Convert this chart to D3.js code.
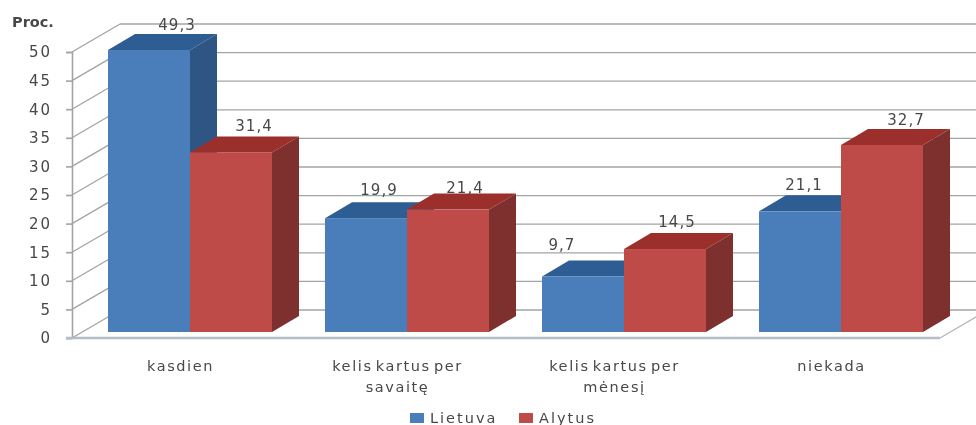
<!DOCTYPE html>
<html>
<head>
<meta charset="utf-8">
<script src="https://cdnjs.cloudflare.com/ajax/libs/d3/7.8.5/d3.min.js"></script>
<style>
    html, body { margin: 0; padding: 0; background: #fff; overflow: hidden; }
    svg { display: block; filter: blur(0.6px); }
    text { font-family: "DejaVu Sans", sans-serif; fill: #484848; }
</style>
</head>
<body>
<div id="chart"></div>
<script>
// Data
const categories = ["kasdien", "kelis kartus per savaitę", "kelis kartus per mėnesį", "niekada"];
const seriesNames = ["Lietuva", "Alytus"];
const lietuva = [49.3, 19.9, 9.7, 21.1];
const alytus = [31.4, 21.4, 14.5, 32.7];
const yTicks = [0, 5, 10, 15, 20, 25, 30, 35, 40, 45, 50];

// Label nudges from the top centre of each bar, the labels sit unevenly in the original
const labelNudgeLietuva = [[28, -20], [13, -23], [-21, -27], [4, -21]];
const labelNudgeAlytus = [[23, -21], [17, -17], [12, -22], [24, -20]];

const w = 976;
const h = 425;

// 3d offsets
const wallDx = 48, wallDy = -28;   // front of the floor to the back wall
const barDx = 27, barDy = -16;     // depth of a bar
const barLift = -6;                // bars stand a bit behind the front edge
const barWidth = 82;

const colors = {
    Lietuva: { front: "#4a7ebb", side: "#2f5584", top: "#2e5d94" },
    Alytus: { front: "#be4b48", side: "#7e302e", top: "#9a2f2c" }
};

const svg = d3.select("#chart")
    .append("svg")
    .attr("width", w)
    .attr("height", h);

// Scales
const yScale = d3.scaleLinear().domain([0, 50]).range([338, 52]);
const xScale = d3.scaleBand().domain(categories).range([72, 940]);

// Back wall gridlines
svg.append("g")
    .selectAll("line")
    .data(yTicks)
    .enter()
    .append("line")
    .attr("x1", 72 + wallDx)
    .attr("x2", w)
    .attr("y1", d => yScale(d) + wallDy)
    .attr("y2", d => yScale(d) + wallDy)
    .attr("stroke", "#a3a3a3")
    .attr("stroke-width", 1.3);

// Side wall lines
svg.append("g")
    .selectAll("line")
    .data(yTicks)
    .enter()
    .append("line")
    .attr("x1", 72)
    .attr("x2", 72 + wallDx)
    .attr("y1", d => yScale(d))
    .attr("y2", d => yScale(d) + wallDy)
    .attr("stroke", "#a3a3a3")
    .attr("stroke-width", 1.3);

// Floor, right edge
svg.append("line")
    .attr("x1", 940)
    .attr("x2", 940 + wallDx)
    .attr("y1", yScale(0))
    .attr("y2", yScale(0) + wallDy)
    .attr("stroke", "#b5b5b5")
    .attr("stroke-width", 1.3);

// Axes
const yAxis = svg.append("g")
    .attr("transform", "translate(72, 0)")
    .call(d3.axisLeft(yScale).tickValues(yTicks).tickSize(6).tickPadding(14));
yAxis.selectAll("path, line").attr("stroke", "#a3a3a3").attr("stroke-width", 1.6);
yAxis.selectAll("text")
    .attr("font-size", 15)
    .attr("letter-spacing", 2)
    .style("font-family", "'DejaVu Sans', sans-serif")
    .style("fill", "#484848");

svg.append("line")
    .attr("x1", 66)
    .attr("x2", 940)
    .attr("y1", yScale(0))
    .attr("y2", yScale(0))
    .attr("stroke", "#b4bcc6")
    .attr("stroke-width", 2.5);

// One bar per series, blue first so the red one covers its side
function drawBars(name, values, offset) {
    const c = colors[name];
    const g = svg.append("g");
    values.forEach((v, i) => {
        const x0 = xScale(categories[i]) + 36 + offset;
        const x1 = x0 + barWidth;
        const yTop = yScale(v) + barLift;
        const yBase = yScale(0) + barLift;

        g.append("polygon")
            .attr("points", [[x1, yTop], [x1 + barDx, yTop + barDy], [x1 + barDx, yBase + barDy], [x1, yBase]].join(" "))
            .attr("fill", c.side);
        g.append("polygon")
            .attr("points", [[x0, yTop], [x0 + barDx, yTop + barDy], [x1 + barDx, yTop + barDy], [x1, yTop]].join(" "))
            .attr("fill", c.top);
        g.append("rect")
            .attr("x", x0)
            .attr("y", yTop)
            .attr("width", barWidth)
            .attr("height", yBase - yTop)
            .attr("fill", c.front);
    });
}

drawBars("Lietuva", lietuva, 0);
drawBars("Alytus", alytus, barWidth);

// Value labels, on top of everything
function drawLabels(values, nudges, offset) {
    svg.append("g")
        .selectAll("text")
        .data(values)
        .enter()
        .append("text")
        .attr("x", (d, i) => xScale(categories[i]) + 36 + offset + barWidth / 2 + nudges[i][0])
        .attr("y", (d, i) => yScale(d) + barLift + nudges[i][1])
        .attr("text-anchor", "middle")
        .attr("font-size", 15)
        .attr("letter-spacing", 1)
        .text(d => String(d).replace(".", ","));
}
drawLabels(lietuva, labelNudgeLietuva, 0);
drawLabels(alytus, labelNudgeAlytus, barWidth);

// Category labels, wrapped like the original
const catLabels = svg.append("g")
    .selectAll("text")
    .data(categories)
    .enter()
    .append("text")
    .attr("text-anchor", "middle")
    .attr("font-size", 14.5)
    .attr("letter-spacing", 1.6)
    .attr("word-spacing", -3);

catLabels.each(function(d) {
    const words = d.split(" ");
    const lines = words.length > 3 ? [words.slice(0, 3).join(" "), words.slice(3).join(" ")] : [d];
    const cx = xScale(d) + xScale.bandwidth() / 2;
    lines.forEach((line, i) => {
        d3.select(this).append("tspan")
            .attr("x", cx)
            .attr("y", 371 + i * 21)
            .text(line);
    });
});

// Title of the axis
svg.append("text")
    .attr("x", 12)
    .attr("y", 27)
    .attr("font-size", 14.5)
    .attr("font-weight", "bold")
    .text("Proc.");

// Legend
const legendX = [410, 519];
seriesNames.forEach((name, i) => {
    svg.append("rect")
        .attr("x", legendX[i])
        .attr("y", 413)
        .attr("width", 14)
        .attr("height", 10)
        .attr("fill", colors[name].front);
    svg.append("text")
        .attr("x", legendX[i] + 20)
        .attr("y", 423)
        .attr("font-size", 14.5)
        .attr("letter-spacing", 2)
        .text(name);
});
</script>
</body>
</html>
